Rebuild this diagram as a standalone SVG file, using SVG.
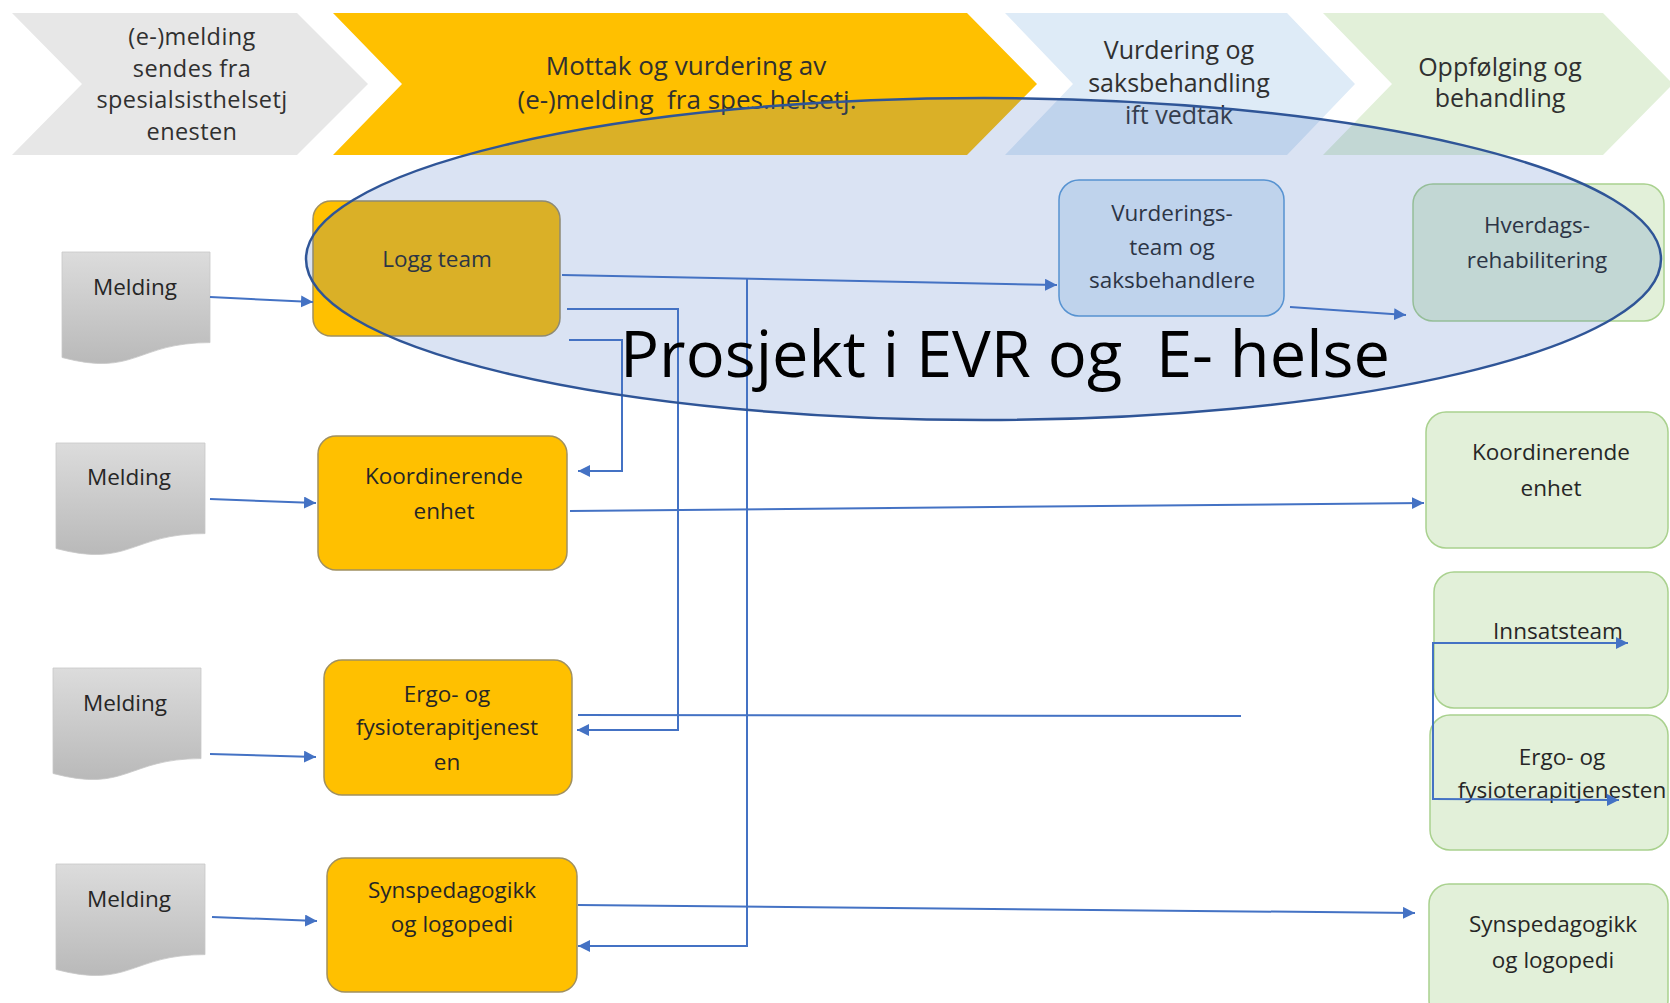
<svg xmlns="http://www.w3.org/2000/svg" width="1670" height="1003" viewBox="0 0 1670 1003">
<defs>
<linearGradient id="docg" x1="0" y1="0" x2="0" y2="1">
<stop offset="0" stop-color="#DCDCDC"/>
<stop offset="1" stop-color="#B9B9B9"/>
</linearGradient>
<marker id="arr" markerUnits="userSpaceOnUse" markerWidth="14" markerHeight="14" refX="12" refY="6" orient="auto">
<path d="M0,0 L12,6 L0,12 Z" fill="#4472C4"/>
</marker>
</defs>
<style>
text{font-family:"Open Sans","Noto Sans","Liberation Sans",sans-serif;fill:#303030;text-anchor:middle}
.chev text{font-size:25px}
.box text{font-size:22.5px;fill:#262626}
.yel{fill:#FFC000;stroke:#A09060;stroke-width:1.5}
.blu{fill:#DEEBF7;stroke:#5B9BD5;stroke-width:1.5}
.grn{fill:#E2F0D9;stroke:#A9D18E;stroke-width:1.5}
.doc{fill:url(#docg);stroke:#C8C8C8;stroke-width:0.8}
.con{fill:none;stroke:#4472C4;stroke-width:2}
.arw{marker-end:url(#arr)}
</style>

<g id="phase1" class="chev">
<path d="M12,13 L297,13 L368,84 L297,155 L12,155 L82,84 Z" fill="#E7E7E7"/>
<text x="192" y="45" style="font-size:23.5px;letter-spacing:0.4px">(e-)melding</text>
<text x="192" y="76.5" style="font-size:23.5px;letter-spacing:0.4px">sendes fra</text>
<text x="192" y="108" style="font-size:23.5px;letter-spacing:0.4px">spesialsisthelsetj</text>
<text x="192" y="139.5" style="font-size:23.5px;letter-spacing:0.4px">enesten</text>
</g>
<g id="phase2" class="chev">
<path d="M333,13 L967,13 L1037,84 L967,155 L333,155 L402,84 Z" fill="#FFC000"/>
<text x="686" y="75" style="font-size:26px">Mottak og vurdering av</text>
<text x="687" y="109" style="font-size:26px;white-space:pre">(e-)melding  fra spes.helsetj.</text>
</g>
<g id="phase3" class="chev">
<path d="M1005,13 L1287,13 L1355,84 L1287,155 L1005,155 L1073,84 Z" fill="#DEEBF7"/>
<text x="1179" y="59">Vurdering og</text>
<text x="1179" y="92">saksbehandling</text>
<text x="1179" y="124">ift vedtak</text>
</g>
<g id="phase4" class="chev">
<path d="M1323,13 L1603,13 L1673,84 L1603,155 L1323,155 L1392,84 Z" fill="#E2F0D9"/>
<text x="1500" y="76">Oppfølging og</text>
<text x="1500" y="107">behandling</text>
</g>

<g id="melding1" class="box">
<path class="doc" d="M62,252 H210 V342.6 C136,342.6 136,377.1 62,357.5 Z"/>
<text x="135" y="295">Melding</text>
</g>
<g id="melding2" class="box">
<path class="doc" d="M56,443 H205 V533.6 C130.5,533.6 130.5,568.1 56,548.5 Z"/>
<text x="129" y="485">Melding</text>
</g>
<g id="melding3" class="box">
<path class="doc" d="M53,668 H201 V758.6 C127,758.6 127,793.1 53,773.5 Z"/>
<text x="125" y="711">Melding</text>
</g>
<g id="melding4" class="box">
<path class="doc" d="M56,864 H205 V954.6 C130.5,954.6 130.5,989.1 56,969.5 Z"/>
<text x="129" y="907">Melding</text>
</g>

<g id="loggteam" class="box">
<rect class="yel" x="313" y="201" width="247" height="135" rx="18"/>
<text x="437" y="267">Logg team</text>
</g>
<g id="koord" class="box">
<rect class="yel" x="318" y="436" width="249" height="134" rx="18"/>
<text x="444" y="484">Koordinerende</text>
<text x="444" y="519">enhet</text>
</g>
<g id="ergo" class="box">
<rect class="yel" x="324" y="660" width="248" height="135" rx="18"/>
<text x="447" y="702">Ergo- og</text>
<text x="447" y="735">fysioterapitjenest</text>
<text x="447" y="770">en</text>
</g>
<g id="syns" class="box">
<rect class="yel" x="327" y="858" width="250" height="134" rx="18"/>
<text x="452" y="898">Synspedagogikk</text>
<text x="452" y="932">og logopedi</text>
</g>

<g id="vurderingsteam" class="box">
<rect class="blu" x="1059" y="180" width="225" height="136" rx="20"/>
<text x="1172" y="221">Vurderings-</text>
<text x="1172" y="255">team og</text>
<text x="1172" y="288">saksbehandlere</text>
</g>

<g id="hverdags" class="box">
<rect class="grn" x="1413" y="184" width="251" height="137" rx="20"/>
<text x="1537" y="233">Hverdags-</text>
<text x="1537" y="268">rehabilitering</text>
</g>
<g id="koord2" class="box">
<rect class="grn" x="1426" y="412" width="242" height="136" rx="20"/>
<text x="1551" y="460">Koordinerende</text>
<text x="1551" y="496">enhet</text>
</g>
<g id="innsatsteam" class="box">
<rect class="grn" x="1434" y="572" width="234" height="136" rx="20"/>
<text x="1558" y="639">Innsatsteam</text>
</g>
<g id="ergo2" class="box">
<rect class="grn" x="1430" y="715" width="238" height="135" rx="20"/>
<text x="1562" y="765">Ergo- og</text>
<text x="1562" y="798">fysioterapitjenesten</text>
</g>
<g id="syns2" class="box">
<rect class="grn" x="1429" y="884" width="239" height="136" rx="20"/>
<text x="1553" y="932">Synspedagogikk</text>
<text x="1553" y="968">og logopedi</text>
</g>

<g id="connectors">
<path class="con arw" d="M210,297 L313,302"/>
<path class="con arw" d="M210,499 L316,503"/>
<path class="con arw" d="M210,754 L316,757"/>
<path class="con arw" d="M212,917 L317,921"/>
<path class="con arw" d="M562,275 L1057,285"/>
<path class="con arw" d="M747,278 L747,946 L578,946"/>
<path class="con arw" d="M567,309 L678,309 L678,730 L577,730"/>
<path class="con arw" d="M569,340 L622,340 L622,471 L578,471"/>
<path class="con arw" d="M1290,307 L1406,315"/>
<path class="con arw" d="M570,511 L1424,503"/>
<path class="con" d="M578,715 L1241,716"/>
<path class="con arw" d="M578,905 L1415,913"/>
<path class="con arw" d="M1433,800 L1433,643 L1628,643"/>
<path class="con arw" d="M1433,799 L1619,800"/>
</g>

<g id="prosjekt">
<ellipse cx="983.5" cy="259" rx="677.5" ry="161" fill="#4472C4" fill-opacity="0.2" stroke="#2F5597" stroke-width="2.5"/>
<text x="620" y="377" textLength="770" lengthAdjust="spacingAndGlyphs" style="font-size:64.5px;fill:#000;text-anchor:start;white-space:pre">Prosjekt i EVR og  E- helse</text>
</g>
</svg>
